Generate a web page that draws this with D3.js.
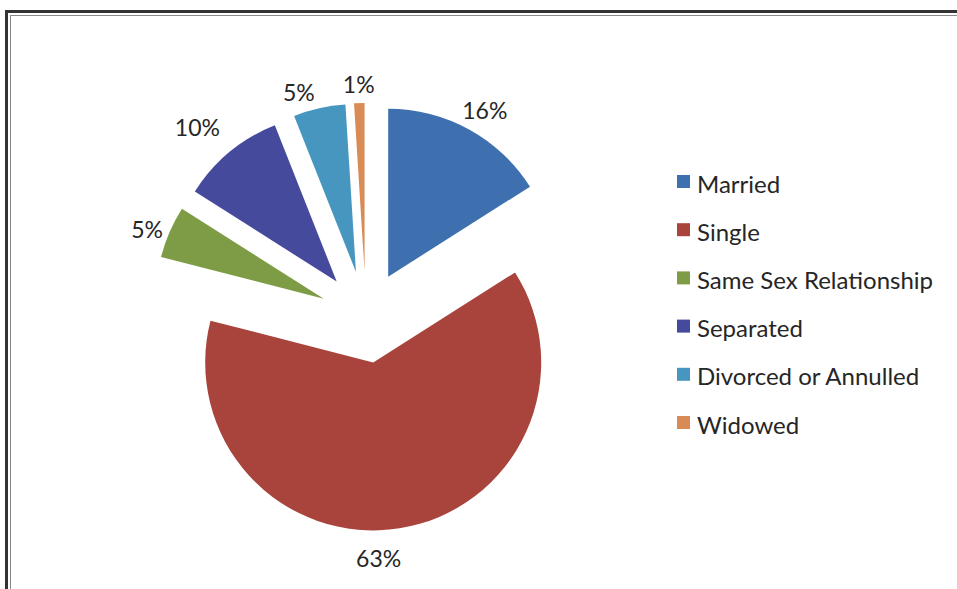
<!DOCTYPE html>
<html>
<head>
<meta charset="utf-8">
<script src="https://cdn.jsdelivr.net/npm/d3@7"></script>
<style>
  html, body { margin: 0; padding: 0; background: #fff; }
  svg { display: block; }
  text { font-family: Lato, "Open Sans", "Noto Sans", sans-serif; fill: #262626; }
</style>
</head>
<body>
<svg id="chart" width="957" height="589"></svg>
<script>
// Marital status breakdown (percent of respondents)
const categories = ["Married", "Single", "Same Sex Relationship", "Separated", "Divorced or Annulled", "Widowed"];
const shares = [16, 63, 5, 10, 5, 1];
const sliceColors = ["#3E70B0", "#A9443C", "#7E9C45", "#464A9C", "#4796BF", "#D98B55"];

const W = 957, H = 589;
const svg = d3.select("#chart");

// frame: heavy outer rule plus a thin inner rule, running off the right and bottom edges
svg.append("rect").attr("x", 6.5).attr("y", 11.5).attr("width", W + 20).attr("height", H + 20)
  .attr("fill", "none").attr("stroke", "#333").attr("stroke-width", 3);
svg.append("rect").attr("x", 10.5).attr("y", 15.5).attr("width", W + 20).attr("height", H + 20)
  .attr("fill", "none").attr("stroke", "#888").attr("stroke-width", 1);

const data = categories.map((c, i) => ({ label: c, value: shares[i], color: sliceColors[i] }));

const cx = 366, cy = 317, R = 168, explode = 46, labelR = 193;

// small label placement tweaks (degrees along the rim, pixels outward)
const labelTweak = {
  "Married": [1, 0],
  "Single": [6, 2],
  "Same Sex Relationship": [-1.5, -3],
  "Separated": [-2, 15],
  "Divorced or Annulled": [-4, -4],
  "Widowed": [0, -6]
};

const pie = d3.pie().sort(null).value(d => d.value);
const arc = d3.arc().innerRadius(0).outerRadius(R);
const arcs = pie(data);

const g = svg.append("g").attr("transform", `translate(${cx},${cy})`);

const slice = g.selectAll("g.slice").data(arcs).join("g")
  .attr("class", "slice")
  .attr("transform", d => {
    const m = (d.startAngle + d.endAngle) / 2;
    return `translate(${Math.sin(m) * explode},${-Math.cos(m) * explode})`;
  });

slice.append("path")
  .attr("d", arc)
  .attr("fill", d => d.data.color);

g.selectAll("text.pct").data(arcs).join("text")
  .attr("class", "pct")
  .attr("transform", d => {
    const t = labelTweak[d.data.label];
    const m = (d.startAngle + d.endAngle) / 2 + t[0] * Math.PI / 180;
    const r = explode + labelR + t[1];
    return `translate(${Math.sin(m) * r},${-Math.cos(m) * r})`;
  })
  .attr("text-anchor", "middle")
  .attr("dominant-baseline", "central")
  .style("font-size", "23px")
  .text(d => d.data.value + "%");

// legend
const rowY = d3.scalePoint().domain(categories).range([182, 423]);
const legend = svg.append("g").selectAll("g").data(data).join("g")
  .attr("transform", d => `translate(677,${rowY(d.label)})`);
legend.append("rect")
  .attr("x", 0).attr("y", -7).attr("width", 13).attr("height", 13)
  .attr("fill", d => d.color);
legend.append("text")
  .attr("x", 20).attr("y", 1)
  .attr("dominant-baseline", "central")
  .style("font-size", "24px")
  .text(d => d.label);
</script>
</body>
</html>
